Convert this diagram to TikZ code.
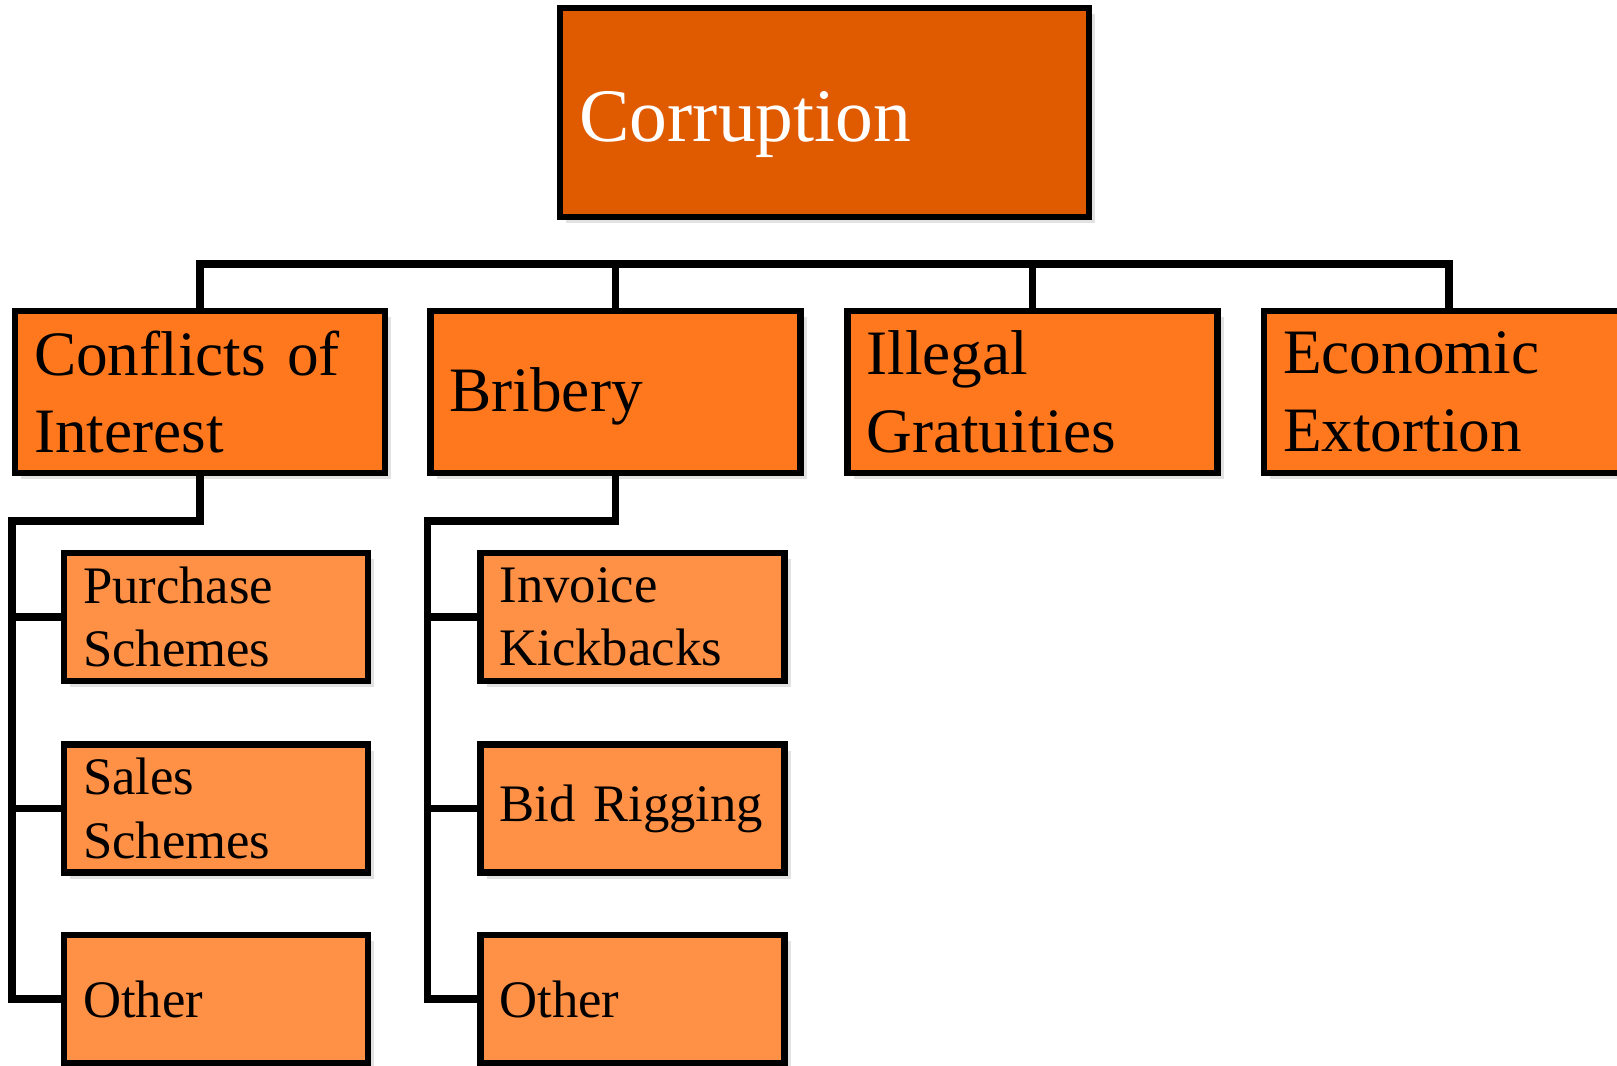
\documentclass[tikz,border=0pt]{standalone}
\usepackage{fontspec}
\setmainfont{Liberation Serif}
\usetikzlibrary{positioning, shadows}
\definecolor{burnt}{HTML}{E05A00}
\definecolor{tangerine}{HTML}{FF781E}
\definecolor{apricot}{HTML}{FF9146}
\definecolor{shade}{HTML}{E2E2E2}

\begin{document}
\begin{tikzpicture}[
  box/.style={draw=black, line width=3.6pt, rectangle, align=left,
    inner xsep=0.38cm, inner ysep=0pt,
    drop shadow={shadow xshift=0.12cm, shadow yshift=-0.12cm, fill=shade, opacity=1}},
  topbox/.style={box, fill=burnt, text=white, minimum width=10.58cm,
    minimum height=4.18cm, text width=9.8cm, font=\fontsize{43}{52}\selectfont},
  midbox/.style={box, fill=tangerine, minimum width=7.4cm,
    minimum height=3.24cm, text width=6.64cm, font=\fontsize{36}{44}\selectfont},
  subbox/.style={box, fill=apricot, minimum width=6.08cm,
    minimum height=2.56cm, text width=5.32cm, font=\fontsize{30}{36}\selectfont},
  link/.style={line width=4.2pt, line join=miter}
]
  \useasboundingbox (0,0) rectangle (32.34,21.3);
  % Top of the tree
  \node[topbox, text height=1.5cm, text depth=0.34cm] (corr) at (16.49,19.05) {Corruption};
  \node[midbox] (coi)  at (4.00,13.46)  {Conflicts of\\Interest};
  \node[midbox, text height=1.06cm, text depth=0.28cm] (brib) at (12.31,13.46) {Bribery};
  \node[midbox] (grat) at (20.65,13.46) {Illegal\\Gratuities};
  \node[midbox] (extn) at (28.98,13.46) {Economic\\Extortion};
  % Sub-schemes
  \node[subbox] (coi1)  at (4.32,8.96)  {Purchase\\Schemes};
  \node[subbox] (coi2)  at (4.32,5.13)  {Sales\\Schemes};
  \node[subbox] (coi3)  at (4.32,1.32)  {Other};
  \node[subbox] (brib1) at (12.65,8.96) {Invoice\\Kickbacks};
  \node[subbox] (brib2) at (12.65,5.13) {Bid Rigging};
  \node[subbox] (brib3) at (12.65,1.32) {Other};
  % Bus over the categories
  \coordinate (bus) at (0,16.02);
  \draw[link] (coi.north) |- (bus -| extn.north) -- (extn.north);
  \foreach \p in {brib,grat}
    \draw[link] (\p.north) -- (\p.north |- bus);
  % Branches down to the sub-schemes
  \foreach \p in {coi,brib}{
    \coordinate (\p-turn) at (\p.south west |- 0,10.88);
    \draw[link] (\p.south) |- (\p-turn) |- (\p3.west);
    \foreach \c in {1,2}
      \draw[link] (\p-turn |- \p\c.west) -- (\p\c.west);
  }
\end{tikzpicture}
\end{document}
